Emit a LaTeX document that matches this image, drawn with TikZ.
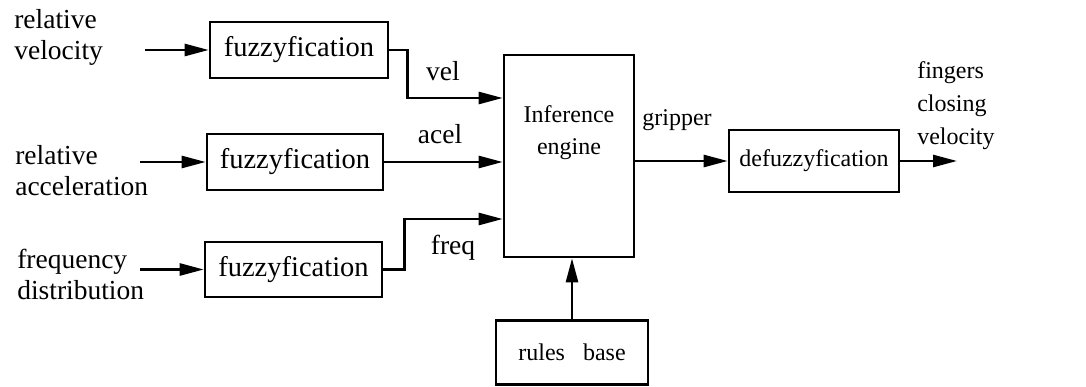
\documentclass[tikz,border=0pt]{standalone}
\usepackage{fontspec}
\setmainfont{Liberation Serif}
\usetikzlibrary{arrows.meta}
\begin{document}
\begin{tikzpicture}[x=1pt,y=-1pt,line width=2.6pt,
  big/.style={font=\fontsize{27.5}{31}\selectfont},
  fz/.style={font=\fontsize{28.5}{31}\selectfont},
  small/.style={font=\fontsize{24}{33}\selectfont},
  box/.style={draw,inner sep=0pt,line width=2.6pt},
  txt/.style={inner sep=0pt,align=left},
  arr/.style={-{Triangle[length=24pt,width=12pt]}}]
\useasboundingbox (0,0) rectangle (1086,387);
% boxes
\node[box,fz,minimum width=178pt,minimum height=56pt] (f1) at (299,50) {fuzzyfication};
\node[box,fz,minimum width=176pt,minimum height=56pt] (f2) at (295,162) {fuzzyfication};
\node[box,fz,minimum width=177pt,minimum height=55pt] (f3) at (293.5,269.5) {fuzzyfication};
\node[box,minimum width=130pt,minimum height=202pt] (eng) at (569,156) {};
\node[small,align=center,inner sep=0pt] (engtxt) at (569,133) {Inference\\[-1pt]engine};
\node[box,small,minimum width=170pt,minimum height=62pt] (defz) at (814,161) {defuzzyfication};
\node[box,small,minimum width=152pt,minimum height=64pt] (rules) at (572,352.5) {rules~~~base};
% input labels
\node[txt,big,anchor=west] (l1) at (13,37) {relative\\velocity};
\node[txt,big,anchor=west] (l2) at (14,171) {relative\\acceleration};
\node[txt,big,anchor=west] (l3) at (16,274) {frequency\\distribution};
\node[txt,small,anchor=west] (l4) at (916,106) {fingers\\closing\\velocity};
% signal labels
\node[big,inner sep=0pt] (vel) at (443,71) {vel};
\node[big,inner sep=0pt] (acel) at (440,134) {acel};
\node[big,inner sep=0pt] (freq) at (453,248) {freq};
\node[small,inner sep=0pt] (grip) at (677,120) {gripper};
% free ends
\coordinate (in1) at (145,50);
\coordinate (in2) at (140,162);
\coordinate (in3) at (140,269.5);
\coordinate (out) at (957,161);
% connectors
\draw[arr] (in1) -- (f1.west);
\draw[arr] (in2) -- (f2.west);
\draw[arr] (in3) -- (f3.west);
\draw[arr] (f1.east) -- ++(18,0) |- ([yshift=58pt]eng.west);
\draw[arr] (f2.east) -- (eng.west |- f2.east);
\draw[arr] (f3.east) -- ++(21,0) |- ([yshift=-63pt]eng.west);
\draw[arr] (eng.east |- defz.west) -- (defz.west);
\draw[arr] (defz.east) -- (out);
\draw[arr] (rules.north) -- (rules.north |- eng.south);
\end{tikzpicture}
\end{document}
